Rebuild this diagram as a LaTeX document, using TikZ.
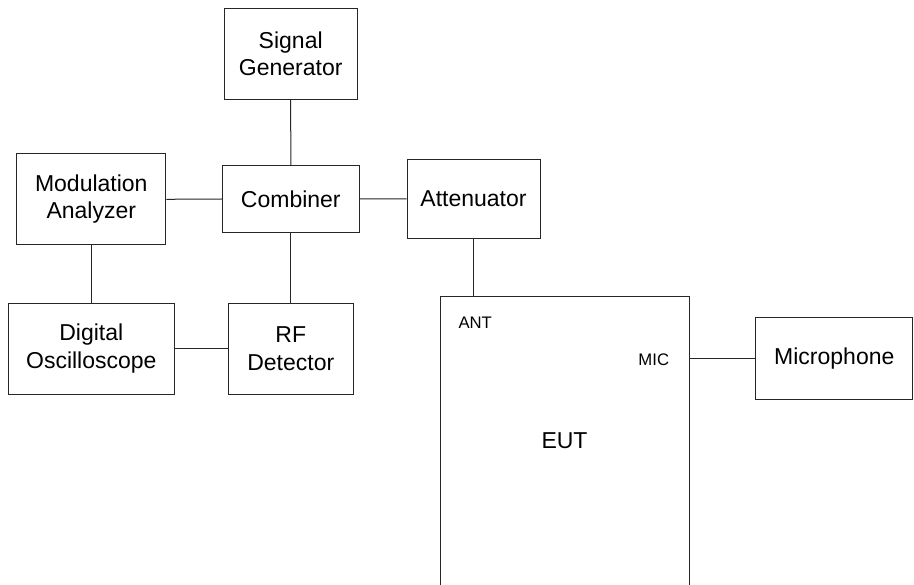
\documentclass[tikz,border=0pt]{standalone}
\usepackage{fontspec}
\setmainfont{Liberation Sans}
\begin{document}
\begin{tikzpicture}[x=1pt,y=-1pt,
  box/.style={draw=black!85, line width=1pt, rectangle, inner sep=0pt, align=center,
    font=\fontsize{23}{27.5}\selectfont},
  wire/.style={draw=black!85, line width=1pt},
  small/.style={inner sep=0pt, font=\fontsize{16.7}{20}\selectfont}]
\useasboundingbox (0,0) rectangle (914,585);
\clip (0,0) rectangle (914,585);
\fill[white] (0,0) rectangle (914,585);
\node[box, minimum width=133pt, minimum height=91pt] (sg) at (290.7,53.8) {Signal\\Generator};
\node[box, minimum width=149.3pt, minimum height=91.3pt] (ma) at (91.3,199.3) {Modulation\\Analyzer};
\node[box, minimum width=137pt, minimum height=66.7pt] (comb) at (290.8,199) {Combiner};
\node[box, minimum width=133pt, minimum height=79pt] (att) at (473.5,198.8) {Attenuator};
\node[box, minimum width=166pt, minimum height=91.3pt] (dosc) at (91.3,348.7) {Digital\\Oscilloscope};
\node[box, minimum width=125pt, minimum height=91.3pt] (rf) at (290.8,348.7) {RF\\Detector};
\node[box, minimum width=248.7pt, minimum height=320pt] (eut) at (564.7,456.3) {};
\node[box, draw=none] (euttxt) at (564.5,440.5) {EUT};
\node[box, minimum width=157.3pt, minimum height=82.3pt] (mic) at (834.3,358.8) {Microphone};
\node[small, anchor=base west] (ant) at (458.3,328.7) {ANT};
\node[small, anchor=base east] (miclbl) at (669.3,365.3) {MIC};
\draw[wire] (sg.south) -- (comb.north);
\draw[wire] (ma.east) -- (comb.west);
\draw[wire] (comb.east) -- (att.west);
\draw[wire] (ma.south) -- (dosc.north);
\draw[wire] (comb.south) -- (rf.north);
\draw[wire] (dosc.east) -- (rf.west);
\draw[wire] (att.south) -- (att.south |- eut.north);
\draw[wire] (mic.west) -- (mic.west -| eut.east);
\end{tikzpicture}
\end{document}
